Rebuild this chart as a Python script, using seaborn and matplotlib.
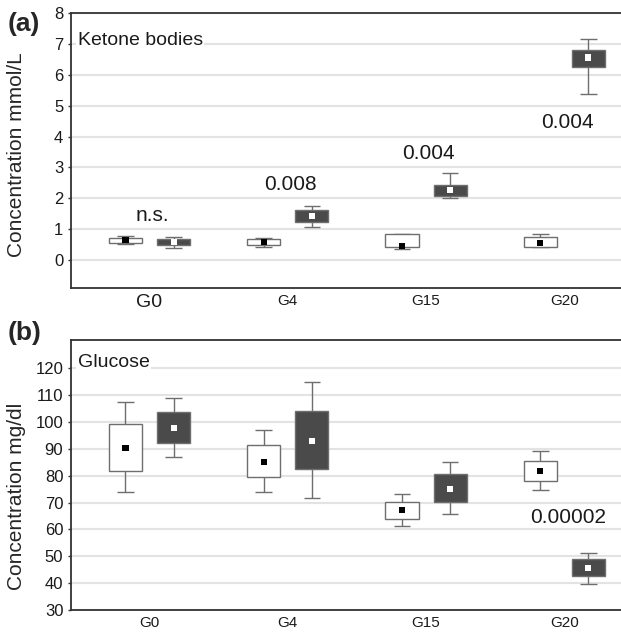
import numpy as np
import pandas as pd
import matplotlib
matplotlib.use("Agg")
import matplotlib.pyplot as plt
import seaborn as sns

groups = ["G0", "G4", "G15", "G20"]

# Ketone bodies (mmol/L): control (white) and treated (dark)
ket_ctrl_mean = [0.65, 0.60, 0.47, 0.55]
ket_ctrl_q1 = [0.57, 0.49, 0.43, 0.43]
ket_ctrl_q3 = [0.73, 0.69, 0.84, 0.74]
ket_ctrl_lo = [0.52, 0.42, 0.35, 0.43]
ket_ctrl_hi = [0.78, 0.73, 0.84, 0.84]

ket_trt_mean = [0.58, 1.44, 2.26, 6.56]
ket_trt_q1 = [0.49, 1.25, 2.09, 6.26]
ket_trt_q3 = [0.69, 1.61, 2.43, 6.79]
ket_trt_lo = [0.40, 1.09, 2.01, 5.39]
ket_trt_hi = [0.76, 1.76, 2.83, 7.17]

ket_pvals = ["n.s.", "0.008", "0.004", "0.004"]
ket_pval_y = [1.45, 2.45, 3.45, 4.45]

# Glucose (mg/dl)
glu_ctrl_mean = [90.4, 85.1, 67.2, 81.7]
glu_ctrl_q1 = [81.9, 79.4, 64.0, 78.2]
glu_ctrl_q3 = [99.2, 91.3, 70.2, 85.4]
glu_ctrl_lo = [73.8, 73.8, 61.2, 74.7]
glu_ctrl_hi = [107.6, 97.0, 73.2, 89.0]

glu_trt_mean = [97.7, 92.9, 75.1, 45.5]
glu_trt_q1 = [92.1, 82.3, 70.3, 42.7]
glu_trt_q3 = [103.6, 104.1, 80.5, 48.9]
glu_trt_lo = [86.9, 71.8, 65.9, 39.8]
glu_trt_hi = [108.8, 114.7, 85.0, 51.3]

glu_pval = "0.00002"
glu_pval_y = 64.6

sns.set_theme(style="whitegrid")
plt.rcParams["font.family"] = ["Liberation Sans", "DejaVu Sans"]

fig = plt.figure(figsize=(6.21, 6.32), dpi=100)
W, H = 621, 632
def axes_px(l, t, r, b):
    return fig.add_axes([l / W, 1 - b / H, (r - l) / W, (b - t) / H])

axA = axes_px(71, 13, 621, 288)
axB = axes_px(71, 340, 621, 610)

OFF = 0.174
BW = 0.239
CAP = 0.12
EDGE = "#6e6e6e"
DARK = "#4a4a4a"

def draw_series(ax, xs, mean, q1, q3, lo, hi, face, mcol):
    xs = np.asarray(xs, float)
    q1 = np.asarray(q1); q3 = np.asarray(q3)
    ax.vlines(xs, lo, q1, color=EDGE, lw=1.0, zorder=2)
    ax.vlines(xs, q3, hi, color=EDGE, lw=1.0, zorder=2)
    ax.hlines(lo, xs - CAP / 2, xs + CAP / 2, color=EDGE, lw=1.0, zorder=2)
    ax.hlines(hi, xs - CAP / 2, xs + CAP / 2, color=EDGE, lw=1.0, zorder=2)
    ax.bar(xs, q3 - q1, bottom=q1, width=BW, color=face, edgecolor=EDGE,
           linewidth=1.0, zorder=3)
    df = pd.DataFrame({"x": xs, "m": mean})
    sns.scatterplot(data=df, x="x", y="m", ax=ax, marker="s", s=19,
                    color=mcol, edgecolor="none", zorder=4, legend=False)

def style_axis(ax, ylim, yticks, ylabel, label_y):
    ax.set_xlim(-0.568, 3.41)
    ax.set_ylim(*ylim)
    ax.set_yticks(yticks)
    ax.set_yticklabels([str(t) for t in yticks], fontsize=12)
    ax.set_xticks(range(len(groups)))
    ax.set_xticklabels(groups, fontsize=11)
    ax.grid(axis="y", color="#e3e3e3", lw=1.5)
    ax.grid(axis="x", visible=False)
    ax.set_xlabel("")
    ax.set_ylabel(ylabel, fontsize=15)
    ax.yaxis.set_label_coords(-0.082, label_y)
    ax.tick_params(axis="x", length=0, pad=4, colors="#1a1a1a")
    ax.tick_params(axis="y", left=True, length=2.5, width=1.0, pad=3,
                   color="#333333", labelcolor="#1a1a1a")
    for s in ["left", "bottom", "top"]:
        ax.spines[s].set_color("#333333")
        ax.spines[s].set_linewidth(1.3)
    ax.spines["right"].set_visible(False)
    ax.set_facecolor("white")

x = np.arange(len(groups))

# Panel (a)
draw_series(axA, x - OFF, ket_ctrl_mean, ket_ctrl_q1, ket_ctrl_q3, ket_ctrl_lo, ket_ctrl_hi, "white", "black")
draw_series(axA, x + OFF, ket_trt_mean, ket_trt_q1, ket_trt_q3, ket_trt_lo, ket_trt_hi, DARK, "white")
style_axis(axA, (-0.9, 8.0), list(range(0, 9)), "Concentration mmol/L", 0.484)
labs = axA.get_xticklabels()
labs[0].set_fontsize(14)
for i, p in enumerate(ket_pvals):
    axA.text(x[i] + 0.02, ket_pval_y[i], p, ha="center", va="center", fontsize=15, color="#1a1a1a")
axA.text(0.012, 0.90, "Ketone bodies", transform=axA.transAxes, fontsize=14,
         ha="left", va="center", color="#1a1a1a",
         bbox=dict(facecolor="white", edgecolor="none", pad=1))
fig.text(8 / W, 1 - 24 / H, "(a)", fontsize=19, fontweight="bold", ha="left", va="center")

# Panel (b)
draw_series(axB, x - OFF, glu_ctrl_mean, glu_ctrl_q1, glu_ctrl_q3, glu_ctrl_lo, glu_ctrl_hi, "white", "black")
draw_series(axB, x + OFF, glu_trt_mean, glu_trt_q1, glu_trt_q3, glu_trt_lo, glu_trt_hi, DARK, "white")
style_axis(axB, (30, 130.5), list(range(30, 121, 10)), "Concentration mg/dl", 0.422)
axB.text(x[3] + 0.03, glu_pval_y, glu_pval, ha="center", va="center", fontsize=15, color="#1a1a1a")
axB.text(0.012, 0.918, "Glucose", transform=axB.transAxes, fontsize=14,
         ha="left", va="center", color="#1a1a1a",
         bbox=dict(facecolor="white", edgecolor="none", pad=1))
fig.text(8 / W, 1 - 333 / H, "(b)", fontsize=19, fontweight="bold", ha="left", va="center")

fig.savefig("out.png", dpi=100, facecolor="white")
